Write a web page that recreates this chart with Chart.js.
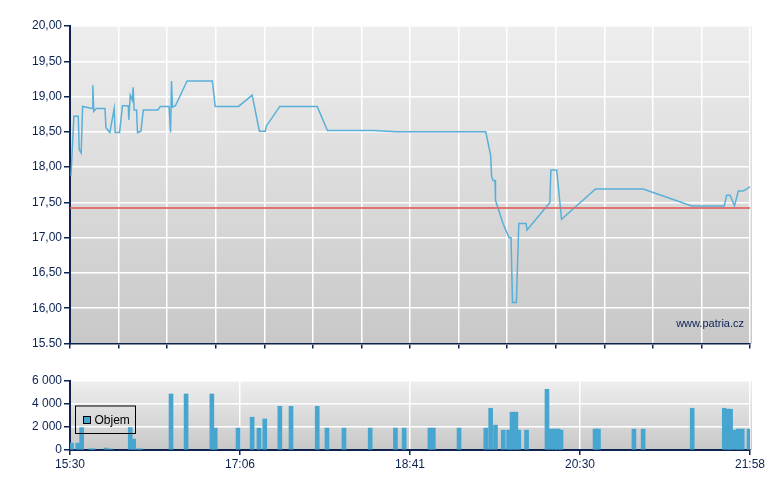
<!DOCTYPE html>
<html>
<head>
<meta charset="utf-8">
<script src="https://cdn.jsdelivr.net/npm/chart.js@4.4.1/dist/chart.umd.min.js"></script>
<style>
  body{margin:0;background:#fff;width:780px;height:490px;overflow:hidden}
  #top{position:absolute;left:0;top:0;width:780px;height:360px}
  #bottom{position:absolute;left:0;top:360px;width:780px;height:130px}
</style>
</head>
<body>
<div id="top"><canvas id="price"></canvas></div>
<div id="bottom"><canvas id="volume"></canvas></div>
<script>
// time axis runs 0..140 (14 grid cells), labels sit every 35
const timeTicks = [0, 35, 70, 105, 140]
const timeLabels = ['15:30', '17:06', '18:41', '20:30', '21:58']

const priceTickLabels = ['15.50', '16,00', '16,50', '17,00', '17,50', '18,00', '18,50', '19,00', '19,50', '20,00']
const volTickLabels = ['0', '2 000', '4 000', '6 000']

const prevClose = 17.42

const priceX = [0.2, 0.8, 1.7, 1.9, 2.3, 2.6, 4.6, 4.7, 4.9, 5.4, 7.2, 7.4, 8.2, 9.1, 9.3, 10.2, 10.8, 12.0, 12.1, 12.4,
  12.8, 13.0, 13.2, 13.7, 13.9, 14.6, 15.1, 18.1, 18.6, 20.4, 20.7, 20.9, 21.1, 21.7, 24.1, 29.3, 29.9, 34.7, 37.5, 39.0,
  40.2, 40.4, 43.2, 50.9, 53.0, 62.4, 67.3, 85.6, 86.6, 86.8, 87.1, 87.5, 87.6, 88.4, 89.2, 90.4, 90.8, 91.1, 91.9, 92.4,
  93.9, 94.1, 98.8, 99.0, 100.2, 101.2, 108.2, 118.0, 128.0, 134.7, 135.2, 135.9, 136.8, 137.6, 138.6, 140]
const priceY = [17.87, 18.72, 18.72, 18.25, 18.20, 18.86, 18.83, 19.16, 18.79, 18.83, 18.83, 18.56, 18.49, 18.83, 18.49, 18.49, 18.87, 18.87, 18.67, 19.02,
  18.95, 19.13, 18.81, 18.81, 18.49, 18.51, 18.81, 18.81, 18.86, 18.86, 18.49, 19.22, 18.85, 18.87, 19.22, 19.22, 18.86, 18.86, 19.02, 18.51,
  18.51, 18.58, 18.86, 18.86, 18.52, 18.52, 18.50, 18.50, 18.17, 17.87, 17.81, 17.81, 17.53, 17.36, 17.19, 17.00, 17.00, 16.08, 16.08, 17.20,
  17.20, 17.11, 17.50, 17.96, 17.96, 17.26, 17.69, 17.69, 17.45, 17.45, 17.60, 17.60, 17.45, 17.66, 17.66, 17.72]

const volX = [0.3, 1.6, 2.4, 4.2, 4.8, 7.4, 8.4, 12.4, 13.1, 13.9, 14.6, 20.8, 23.9, 29.2, 29.9, 34.6, 37.5, 38.9, 40.1, 43.2,
  45.5, 50.9, 52.9, 56.4, 61.8, 67.0, 68.8, 74.1, 74.8, 80.1, 85.6, 86.6, 87.6, 89.2, 90.3, 91.0, 91.8, 92.4, 94.0, 98.2,
  99.0, 99.8, 100.5, 101.1, 108.1, 108.8, 116.1, 118.0, 128.1, 134.7, 135.4, 136.0, 136.8, 137.6, 138.4, 139.8]
const volY = [600, 600, 1950, 100, 100, 170, 100, 1950, 950, 100, 100, 4870, 4870, 4870, 1900, 1900, 2850, 1900, 2700, 3800,
  3800, 3800, 1900, 1900, 1900, 1900, 1900, 1900, 1900, 1900, 1900, 3630, 2160, 1730, 1730, 3290, 3290, 1730, 1730, 5280,
  1820, 1820, 1820, 1730, 1820, 1820, 1820, 1820, 3630, 3630, 3550, 3550, 1730, 1820, 1820, 1820]

const navy = '#0c2352'
const tickFont = { family: 'Liberation Sans, Arial, sans-serif', size: 12 }

// grey gradient behind the plot
const plotBg = {
  id: 'plotBg',
  beforeDraw(chart) {
    const { ctx, chartArea: a } = chart
    const g = ctx.createLinearGradient(0, a.top, 0, a.bottom)
    g.addColorStop(0, '#eeeeee')
    g.addColorStop(1, '#c8c8c8')
    ctx.save()
    ctx.fillStyle = g
    ctx.fillRect(a.left, a.top, a.right - a.left + 2, a.bottom - a.top)
    ctx.restore()
  }
}

const watermark = {
  id: 'watermark',
  afterDatasetsDraw(chart) {
    const { ctx, chartArea: a } = chart
    ctx.save()
    ctx.font = '11px Liberation Sans, Arial, sans-serif'
    ctx.fillStyle = navy
    ctx.textAlign = 'right'
    ctx.textBaseline = 'alphabetic'
    ctx.fillText('www.patria.cz', a.right - 6, a.bottom - 17)
    ctx.restore()
  }
}

// boxed legend inside the volume plot
const boxLegend = {
  id: 'boxLegend',
  afterDraw(chart) {
    const { ctx, chartArea: a } = chart
    const x = a.left + 5.5, y = a.top + 25
    ctx.save()
    ctx.strokeStyle = '#000'
    ctx.lineWidth = 1
    ctx.strokeRect(x, y, 60, 27.5)
    ctx.fillStyle = '#47a6cf'
    ctx.fillRect(x + 8, y + 10.5, 7, 7)
    ctx.strokeRect(x + 8, y + 10.5, 7, 7)
    ctx.fillStyle = '#000'
    ctx.font = '12px Liberation Sans, Arial, sans-serif'
    ctx.textBaseline = 'middle'
    ctx.fillText(chart.data.datasets[0].label, x + 19, y + 14.5)
    ctx.restore()
  }
}

new Chart(document.getElementById('price'), {
  type: 'line',
  data: {
    datasets: [{
      data: priceX.map((x, i) => ({ x: x, y: priceY[i] })),
      borderColor: '#58b0d8',
      borderWidth: 1.5,
      pointRadius: 0,
      tension: 0,
      order: 1
    }, {
      data: [{ x: 0, y: prevClose }, { x: 140, y: prevClose }],
      borderColor: 'rgba(222,100,100,0.85)',
      borderWidth: 2,
      pointRadius: 0,
      order: 0
    }]
  },
  options: {
    responsive: true,
    maintainAspectRatio: false,
    animation: false,
    layout: { padding: { top: 26, right: 30, left: 0, bottom: 0 } },
    plugins: { legend: { display: false }, tooltip: { enabled: false } },
    scales: {
      x: {
        type: 'linear', min: 0, max: 140,
        ticks: { stepSize: 10, display: false },
        grid: { color: '#ffffff', lineWidth: 1.5, tickColor: navy, tickLength: 5 },
        border: { color: navy, width: 1.5 },
        afterFit(s) { s.height = 16.5 }
      },
      y: {
        min: 15.5, max: 20,
        ticks: {
          stepSize: 0.5, color: navy, font: tickFont, padding: 2,
          callback: (v, i) => priceTickLabels[i]
        },
        grid: { color: '#ffffff', lineWidth: 1.5, tickColor: navy, tickLength: 6 },
        border: { color: navy, width: 2 },
        afterFit(s) { s.width = 70 }
      }
    }
  },
  plugins: [plotBg, watermark]
})

new Chart(document.getElementById('volume'), {
  type: 'bar',
  data: {
    datasets: [{
      label: 'Objem',
      data: volX.map((x, i) => ({ x: x, y: volY[i] })),
      backgroundColor: '#47a6cf',
      barThickness: 4
    }]
  },
  options: {
    responsive: true,
    maintainAspectRatio: false,
    animation: false,
    layout: { padding: { top: 21, right: 30, left: 0, bottom: 0 } },
    plugins: { legend: { display: false }, tooltip: { enabled: false } },
    scales: {
      x: {
        type: 'linear', min: 0, max: 140, offset: false,
        afterBuildTicks(s) { s.ticks = timeTicks.map(v => ({ value: v })) },
        ticks: { color: navy, font: tickFont, padding: 2, maxRotation: 0, callback: (v, i) => timeLabels[i] },
        grid: { offset: false, color: '#ffffff', lineWidth: 1.5, tickColor: navy, tickLength: 5 },
        border: { color: navy, width: 2 },
        afterFit(s) { s.height = 40 }
      },
      y: {
        min: 0, max: 6000,
        ticks: { stepSize: 2000, color: navy, font: tickFont, padding: 2, callback: (v, i) => volTickLabels[i] },
        grid: { color: '#ffffff', lineWidth: 1.5, tickColor: navy, tickLength: 6 },
        border: { color: navy, width: 2 },
        afterFit(s) { s.width = 70 }
      }
    }
  },
  plugins: [plotBg, boxLegend]
})
</script>
</body>
</html>
